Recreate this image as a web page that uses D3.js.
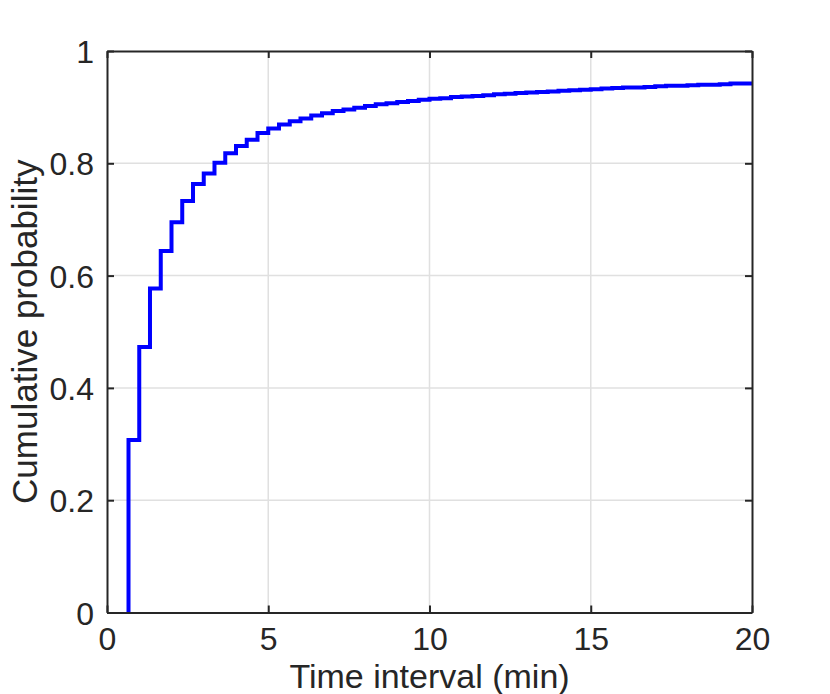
<!DOCTYPE html>
<html>
<head>
<meta charset="utf-8">
<script src="https://cdn.jsdelivr.net/npm/d3@7"></script>
<style>
  html, body { margin: 0; padding: 0; background: #ffffff; }
  svg { display: block; }
  text { font-family: "Liberation Sans", Arial, Helvetica, sans-serif; fill: #262626; }
</style>
</head>
<body>
<svg id="chart" width="830" height="694"></svg>
<script>
// ---- data ----
const stepMinutes = [0.667, 1.0, 1.333, 1.667, 2.0, 2.333, 2.667, 3.0, 3.333, 3.667,
  4.0, 4.333, 4.667, 5.0, 5.333, 5.667, 6.0, 6.333, 6.667, 7.0,
  7.333, 7.667, 8.0, 8.333, 8.667, 9.0, 9.333, 9.667, 10.0, 10.333,
  10.667, 11.0, 11.333, 11.667, 12.0, 12.333, 12.667, 13.0, 13.333, 13.667,
  14.0, 14.333, 14.667, 15.0, 15.333, 15.667, 16.0, 16.333, 16.667, 17.0,
  17.333, 17.667, 18.0, 18.333, 18.667, 19.0, 19.333, 19.667];
const cumulativeProb = [0.307, 0.473, 0.577, 0.644, 0.695, 0.733, 0.763, 0.782, 0.801, 0.818,
  0.831, 0.842, 0.854, 0.862, 0.869, 0.875, 0.880, 0.885, 0.889, 0.893,
  0.896, 0.899, 0.902, 0.905, 0.907, 0.909, 0.911, 0.913, 0.915, 0.916,
  0.918, 0.919, 0.920, 0.921, 0.923, 0.924, 0.925, 0.926, 0.927, 0.928,
  0.929, 0.930, 0.931, 0.932, 0.933, 0.934, 0.935, 0.935, 0.936, 0.937,
  0.938, 0.938, 0.939, 0.940, 0.940, 0.941, 0.942, 0.942];
const xTicks = [0, 5, 10, 15, 20];
const yTicks = [0, 0.2, 0.4, 0.6, 0.8, 1];
const yTickLabels = ["0", "0.2", "0.4", "0.6", "0.8", "1"];
const xLabel = "Time interval (min)";
const yLabel = "Cumulative probability";

// ---- layout ----
const svg = d3.select("#chart");
const m = { left: 107, top: 51, right: 830 - 752, bottom: 694 - 612.5 };
const W = 830 - m.left - m.right;
const H = 694 - m.top - m.bottom;
const axisColor = "#262626";
const gridColor = "#e0e0e0";
const fontStack = '"Liberation Sans", Arial, Helvetica, sans-serif';

const x = d3.scaleLinear().domain([0, 20]).range([0, W]);
const y = d3.scaleLinear().domain([0, 1]).range([H, 0]);

const g = svg.append("g").attr("transform", `translate(${m.left},${m.top})`);

// grid
g.append("g").selectAll("line").data(xTicks.slice(1, -1)).join("line")
  .attr("x1", d => x(d)).attr("x2", d => x(d)).attr("y1", 0).attr("y2", H)
  .attr("stroke", gridColor).attr("stroke-width", 1.5);
g.append("g").selectAll("line").data(yTicks.slice(1, -1)).join("line")
  .attr("y1", d => y(d)).attr("y2", d => y(d)).attr("x1", 0).attr("x2", W)
  .attr("stroke", gridColor).attr("stroke-width", 1.5);

// step line
const pts = [{ x: stepMinutes[0], y: 0 }]
  .concat(stepMinutes.map((s, i) => ({ x: s, y: cumulativeProb[i] })))
  .concat([{ x: 20, y: cumulativeProb[cumulativeProb.length - 1] }]);
const line = d3.line().x(d => x(d.x)).y(d => y(d.y)).curve(d3.curveStepAfter);
g.append("path").datum(pts).attr("d", line)
  .attr("fill", "none").attr("stroke", "#0000ff").attr("stroke-width", 4)
  .attr("stroke-linejoin", "miter");

// axes (ticks inward, box)
const tickLen = 7;
const fmtY = d => yTickLabels[yTicks.indexOf(d)];
const axB = d3.axisBottom(x).tickValues(xTicks).tickSizeInner(-tickLen).tickSizeOuter(0).tickPadding(13);
const axL = d3.axisLeft(y).tickValues(yTicks).tickFormat(fmtY).tickSizeInner(-tickLen).tickSizeOuter(0).tickPadding(13);
const axT = d3.axisTop(x).tickValues(xTicks).tickSizeInner(-tickLen).tickSizeOuter(0).tickFormat("");
const axR = d3.axisRight(y).tickValues(yTicks).tickSizeInner(-tickLen).tickSizeOuter(0).tickFormat("");

function style(sel) {
  sel.selectAll("path.domain").attr("stroke", axisColor).attr("stroke-width", 2);
  sel.selectAll(".tick line").attr("stroke", axisColor).attr("stroke-width", 2);
  sel.selectAll(".tick text").attr("fill", axisColor)
    .style("font-family", fontStack)
    .style("font-size", "32px");
}
const gB = g.append("g").attr("transform", `translate(0,${H})`).call(axB).call(style);
const gL = g.append("g").call(axL).call(style);
g.append("g").call(axT).call(style);
g.append("g").attr("transform", `translate(${W},0)`).call(axR).call(style);

// baselines of tick labels
gB.selectAll(".tick text").attr("dy", null).attr("y", 37.5);
gL.selectAll(".tick text").attr("dy", "0.36em");

// axis labels
svg.append("text").attr("x", m.left + W / 2).attr("y", 688)
  .attr("text-anchor", "middle").style("font-size", "34px").text(xLabel);
svg.append("text").attr("transform", `translate(37,${m.top + H / 2}) rotate(-90)`)
  .attr("text-anchor", "middle").style("font-size", "35px").text(yLabel);
</script>
</body>
</html>
